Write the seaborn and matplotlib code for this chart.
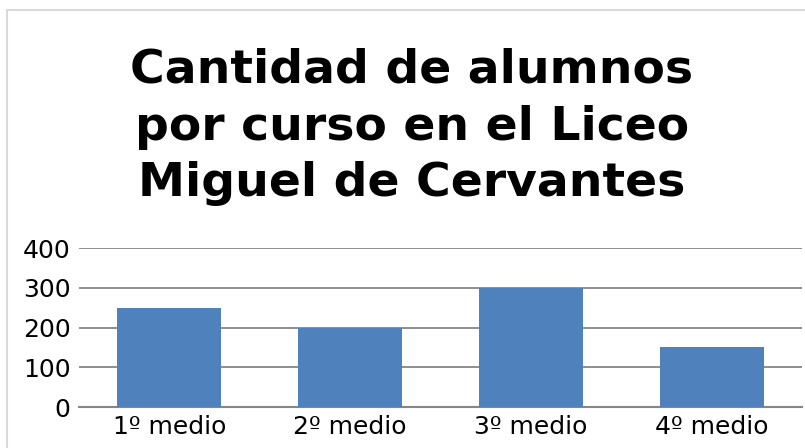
import matplotlib
matplotlib.use("Agg")
import matplotlib.pyplot as plt
import seaborn as sns
import pandas as pd
from matplotlib.patches import Rectangle

categories = ["1º medio", "2º medio", "3º medio", "4º medio"]
values = [250, 200, 300, 150]
yticks = [0, 100, 200, 300, 400]
title = "Cantidad de alumnos\npor curso en el Liceo\nMiguel de Cervantes"

sns.set_theme(style="white")
plt.rcParams["font.family"] = ["DejaVu Sans"]
plt.rcParams["text.color"] = "black"

fig = plt.figure(figsize=(8.05, 4.48), dpi=100)
ax = fig.add_axes([79/805, 1-407/448, (802-79)/805, (407-248)/448])

df = pd.DataFrame({"curso": categories, "alumnos": values})
sns.barplot(data=df, x="curso", y="alumnos", color="#4F81BD", saturation=1,
            width=0.575, ax=ax, zorder=3, linewidth=0, edgecolor="none")

ax.set_ylim(0, 400)
ax.set_yticks(yticks)
ax.set_xlim(-0.5, 3.5)
ax.yaxis.grid(True, color="#868686", linewidth=1.3, zorder=0)
ax.set_axisbelow(True)
for s in ["top", "right", "left"]:
    ax.spines[s].set_visible(False)
ax.spines["bottom"].set_color("#868686")
ax.spines["bottom"].set_linewidth(1.5)
ax.set_xlabel("")
ax.set_ylabel("")
ax.tick_params(axis="both", length=0, labelsize=18, colors="black", pad=6)
ax.tick_params(axis="x", pad=6)

fig.text(412/805, 1-127/448, title, ha="center", va="center", fontsize=34,
         fontweight="bold", linespacing=1.33, color="black")

fig.patches.append(Rectangle((7/805, -0.05), 1.2, 1-10/448+0.05,
                             transform=fig.transFigure, fill=False,
                             edgecolor="#D9D9D9", linewidth=1.5, zorder=0))

fig.savefig("out.png", dpi=100)
